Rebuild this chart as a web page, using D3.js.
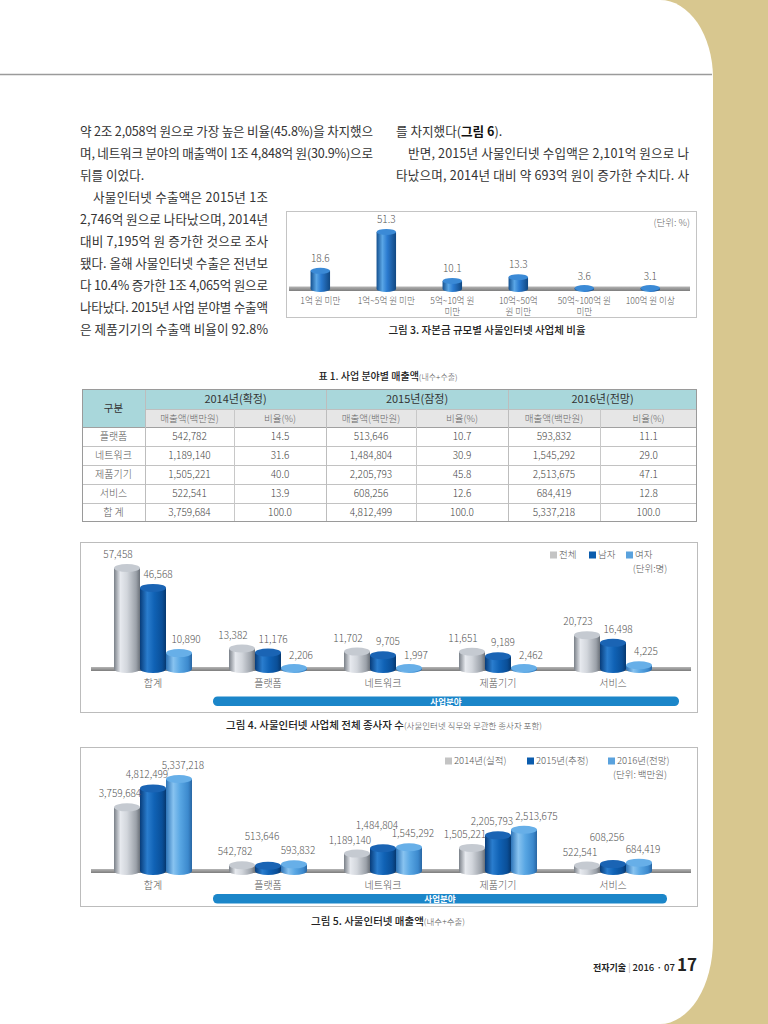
<!DOCTYPE html>
<html><head><meta charset="utf-8">
<script src="https://cdn.jsdelivr.net/npm/d3@7"></script>
<style>
html,body{margin:0;padding:0;background:#fff;}
svg{display:block;font-family:"Noto Sans CJK KR","Noto Sans",sans-serif;}
</style></head><body>
<svg id="page" width="768" height="1024"></svg>
<script>
// ---------------- DATA ----------------
const fig3Categories = [["1억 원 미만"],["1억~5억 원 미만"],["5억~10억 원","미만"],["10억~50억","원 미만"],["50억~100억 원","미만"],["100억 원 이상"]];
const fig3Values = [18.6, 51.3, 10.1, 13.3, 3.6, 3.1];

const fields = ["합계","플랫폼","네트워크","제품기기","서비스"];
const workerSeries = ["전체","남자","여자"];
const workersTotal  = [57458, 13382, 11702, 11651, 20723];
const workersMale   = [46568, 11176, 9705, 9189, 16498];
const workersFemale = [10890, 2206, 1997, 2462, 4225];

const salesSeries = ["2014년(실적)","2015년(추정)","2016년(전망)"];
const sales2014 = [3759684, 542782, 1189140, 1505221, 522541];
const sales2015 = [4812499, 513646, 1484804, 2205793, 608256];
const sales2016 = [5337218, 593832, 1545292, 2513675, 684419];

const tableYears = ["2014년(확정)","2015년(잠정)","2016년(전망)"];
const tableSubHeads = ["매출액(백만원)","비율(%)"];
const tableRows = ["플랫폼","네트워크","제품기기","서비스","합 계"];
const tblSales2014 = [542782, 1189140, 1505221, 522541, 3759684];
const tblRatio2014 = [14.5, 31.6, 40.0, 13.9, 100.0];
const tblSales2015 = [513646, 1484804, 2205793, 608256, 4812499];
const tblRatio2015 = [10.7, 30.9, 45.8, 12.6, 100.0];
const tblSales2016 = [593832, 1545292, 2513675, 684419, 5337218];
const tblRatio2016 = [11.1, 29.0, 47.1, 12.8, 100.0];

const leftColumn = [
  "약 2조 2,058억 원으로 가장 높은 비율(45.8%)을 차지했으",
  "며, 네트워크 분야의 매출액이 1조 4,848억 원(30.9%)으로",
  "뒤를 이었다.",
  "사물인터넷 수출액은 2015년 1조",
  "2,746억 원으로 나타났으며, 2014년",
  "대비 7,195억 원 증가한 것으로 조사",
  "됐다. 올해 사물인터넷 수출은 전년보",
  "다 10.4% 증가한 1조 4,065억 원으로",
  "나타났다. 2015년 사업 분야별 수출액",
  "은 제품기기의 수출액 비율이 92.8%"
];
const rightColumn = [
  "를 차지했다(|그림 6|).",
  "반면, 2015년 사물인터넷 수입액은 2,101억 원으로 나",
  "타났으며, 2014년 대비 약 693억 원이 증가한 수치다. 사"
];

// ---------------- PAGE ----------------
const svg = d3.select("#page");
const defs = svg.append("defs");
const fmt = d3.format(",");
const fmt1 = d3.format(".1f");

svg.append("rect").attr("width",768).attr("height",1024).attr("fill","#d8c78f");
svg.append("path").attr("d","M0,0H660A53,78 0 0 1 713,78V940A53,84 0 0 1 660,1024H0Z").attr("fill","#fff");
svg.append("line").attr("x1",0).attr("x2",712).attr("y1",74.5).attr("y2",74.5)
  .attr("stroke","#9b9b9b").attr("stroke-width",1.6);

function hGrad(id, stops){
  const g = defs.append("linearGradient").attr("id",id).attr("x1","0%").attr("x2","100%").attr("y1","0%").attr("y2","0%");
  stops.forEach(([o,c])=>g.append("stop").attr("offset",o).attr("stop-color",c));
}
hGrad("gGray",  [[0,"#7a8088"],[0.25,"#e6e9ee"],[0.5,"#d2d6dc"],[0.85,"#9ba1a9"],[1,"#6a7078"]]);
hGrad("gDark",  [[0,"#073c7a"],[0.28,"#2a7dce"],[0.55,"#1062b5"],[0.85,"#0a4f98"],[1,"#06386f"]]);
hGrad("gLight", [[0,"#2d74b8"],[0.28,"#88c3f0"],[0.55,"#58a6e3"],[0.85,"#3c89cd"],[1,"#2966a3"]]);
hGrad("gFig3",  [[0,"#13508f"],[0.3,"#5aa6e6"],[0.55,"#2b7bd0"],[1,"#114882"]]);
const vG = defs.append("linearGradient").attr("id","gFloor").attr("x1",0).attr("x2",0).attr("y1",0).attr("y2",1);
vG.append("stop").attr("offset",0).attr("stop-color","#b5b5b5");
vG.append("stop").attr("offset",1).attr("stop-color","#7d7d7d");

function cylinder(g, x, w, yTopEdge, yBottom, grad, topFill, ry){
  let yt = Math.min(yTopEdge + ry, yBottom - 1);
  g.append("path").attr("d", `M${x},${yt}V${yBottom}A${w/2},${ry} 0 0 0 ${x+w},${yBottom}V${yt}Z`)
    .attr("fill", `url(#${grad})`);
  g.append("ellipse").attr("cx", x+w/2).attr("cy", yt).attr("rx", w/2).attr("ry", ry).attr("fill", topFill);
}

// ---------------- BODY TEXT ----------------
const bodyFont = 12.6;
const lineY = d3.scaleLinear().domain([0,1]).range([136, 158]);
const leftSpec = [
  {x:80, w:293},{x:80, w:293},{x:80, w:0},
  {x:93, w:175},{x:80, w:188},{x:80, w:188},{x:80, w:188},{x:80, w:188},{x:80, w:188},{x:80, w:188}
];
leftColumn.forEach((s,i)=>{
  const t = svg.append("text").attr("x",leftSpec[i].x).attr("y",lineY(i))
    .attr("font-size",bodyFont).attr("fill","#333").text(s);
  if(leftSpec[i].w) t.attr("textLength",leftSpec[i].w).attr("lengthAdjust","spacing");
});
const rightSpec = [{x:396,w:0},{x:408,w:281},{x:396,w:293}];
rightColumn.forEach((s,i)=>{
  const t = svg.append("text").attr("x",rightSpec[i].x).attr("y",lineY(i))
    .attr("font-size",bodyFont).attr("fill","#333");
  if(s.includes("|")){
    s.split("|").forEach((p,j)=>t.append("tspan").attr("font-weight", j===1?"700":"400").attr("fill", j===1?"#111":"#333").text(p));
  } else t.text(s);
  if(rightSpec[i].w) t.attr("textLength",rightSpec[i].w).attr("lengthAdjust","spacing");
});

// ---------------- FIG 3 ----------------
(function(){
  const g = svg.append("g");
  g.append("rect").attr("x",286.5).attr("y",211.5).attr("width",410).attr("height",106)
    .attr("fill","#fff").attr("stroke","#c4c4c4");
  const x = d3.scaleBand().domain(d3.range(fig3Values.length)).range([287.3, 683.3]);
  const y = d3.scaleLinear().domain([0, 60]).range([290, 290 - 60*1.19]);
  g.append("rect").attr("x",289).attr("y",286.5).attr("width",401).attr("height",4.5).attr("fill","url(#gFloor)");
  const bw = 19.5;
  fig3Values.forEach((v,i)=>{
    const cx = x(i) + x.bandwidth()/2;
    cylinder(g, cx - bw/2, bw, y(v), 289, "gFig3", "#3b8ad6", 3);
    g.append("text").attr("x",cx).attr("y",y(v)-6).attr("text-anchor","middle")
      .attr("font-size",10).attr("font-weight",300).attr("fill","#555").text(fmt1(v));
    fig3Categories[i].forEach((ln,k)=>{
      g.append("text").attr("x",cx).attr("y",303.5 + k*11.5).attr("text-anchor","middle")
        .attr("font-size",8.6).attr("font-weight",300).attr("fill","#555").text(ln);
    });
  });
  g.append("text").attr("x",690).attr("y",225.5).attr("text-anchor","end")
    .attr("font-size",9.5).attr("font-weight",300).attr("fill","#666").text("(단위: %)");
  svg.append("text").attr("x",487).attr("y",333.5).attr("text-anchor","middle")
    .attr("font-size",10.5).attr("font-weight",500).attr("fill","#222").text("그림 3. 자본금 규모별 사물인터넷 사업체 비율");
})();

// ---------------- TABLE ----------------
(function(){
  const g = svg.append("g");
  const title = g.append("text").attr("x",388).attr("y",380).attr("text-anchor","middle").attr("fill","#222");
  title.append("tspan").attr("font-size",10).attr("font-weight",500).text("표 1. 사업 분야별 매출액");
  title.append("tspan").attr("font-size",8).attr("font-weight",300).attr("fill","#555").text("(내수+수출)");

  const cols = [82,145,234,326,416,508,600,697];
  const hTop = 389, h1 = 409, h2 = 427;
  const ry = d3.scaleBand().domain(tableRows).range([427, 522]);
  g.append("rect").attr("x",cols[0]).attr("y",hTop).attr("width",cols[7]-cols[0]).attr("height",h1-hTop).attr("fill","#a9d7db");
  g.append("rect").attr("x",cols[0]).attr("y",h1).attr("width",cols[1]-cols[0]).attr("height",h2-h1).attr("fill","#a9d7db");
  g.append("rect").attr("x",cols[1]).attr("y",h1).attr("width",cols[7]-cols[1]).attr("height",h2-h1).attr("fill","#e6e6e6");
  const line = (x1,y1,x2,y2,c)=>g.append("line").attr("x1",x1).attr("y1",y1).attr("x2",x2).attr("y2",y2).attr("stroke",c||"#c2c2c2").attr("stroke-width",1);
  line(cols[1],h1+0.5,cols[7],h1+0.5,"#bfbfbf");
  line(cols[0],h2+0.5,cols[7],h2+0.5,"#a0a0a0");
  tableRows.forEach((r,i)=>{ if(i>0) line(cols[0],ry(r)+0.5,cols[7],ry(r)+0.5); });
  [1,3,5].forEach(c=>line(cols[c]+0.5,hTop,cols[c]+0.5,522,"#bdbdbd"));
  [2,4,6].forEach(c=>line(cols[c]+0.5,h1,cols[c]+0.5,522,"#c8c8c8"));
  g.append("rect").attr("x",cols[0]+0.5).attr("y",hTop+0.5).attr("width",cols[7]-cols[0]-1).attr("height",522-hTop-1)
    .attr("fill","none").attr("stroke","#9a9a9a");

  const txt = (x,y,s,size,fill,w)=>g.append("text").attr("x",x).attr("y",y).attr("text-anchor","middle")
      .attr("font-size",size).attr("font-weight",w||300).attr("fill",fill).text(s);
  txt((cols[0]+cols[1])/2, 411.5, "구분", 10.5, "#333", 400);
  tableYears.forEach((yr,i)=>{
    txt((cols[1+2*i]+cols[3+2*i])/2, 402.5, yr, 11, "#333", 400);
    tableSubHeads.forEach((sh,k)=>txt((cols[1+2*i+k]+cols[2+2*i+k])/2, 421.5, sh, 9.5, "#666"));
  });
  const dataCols = [tblSales2014, tblRatio2014, tblSales2015, tblRatio2015, tblSales2016, tblRatio2016];
  tableRows.forEach((r,i)=>{
    const cy = ry(r) + ry.bandwidth()/2 + 3.6;
    txt((cols[0]+cols[1])/2, cy, r, 10, "#555");
    dataCols.forEach((arr,c)=>{
      txt((cols[1+c]+cols[2+c])/2, cy, c%2===0 ? fmt(arr[i]) : fmt1(arr[i]), 10, "#444");
    });
  });
})();

// ---------------- GROUPED 3D CHARTS ----------------
function groupedChart(o){
  const g = svg.append("g");
  g.append("rect").attr("x",80.5).attr("y",o.boxTop+0.5).attr("width",617).attr("height",o.boxH)
    .attr("fill","#fff").attr("stroke","#bcbcbc");
  const x0 = d3.scaleBand().domain(fields).range([95.5, 670.5]).paddingInner(0.3217).paddingOuter(0.16085);
  const x1 = d3.scaleBand().domain(o.series).range([0, x0.bandwidth()]);
  const y = d3.scaleLinear().domain([0, o.yMax]).range([o.base, o.base - o.yMax*o.pxPer]);
  g.append("rect").attr("x",91).attr("y",o.base-2).attr("width",600).attr("height",4).attr("fill","url(#gFloor)");
  const grads = ["gGray","gDark","gLight"];
  const tops = ["#c5cad1","#1a64b4","#67afe8"];
  fields.forEach((f,i)=>{
    o.values.forEach((arr,s)=>{
      cylinder(g, x0(f)+x1(o.series[s]), x1.bandwidth(), y(arr[i]), o.base, grads[s], tops[s], 4);
    });
  });
  fields.forEach((f,i)=>{
    const placed = [];
    o.values.forEach((arr,s)=>{
      let cx = x0(f)+x1(o.series[s])+x1.bandwidth()/2 + o.dx[s];
      const t = g.append("text").attr("text-anchor","middle")
        .attr("font-size",10).attr("font-weight",300).attr("fill","#555").text(fmt(arr[i]));
      const w = t.node().getComputedTextLength();
      let yy = y(arr[i]) - 6;
      let moved = true, guard = 0;
      while(moved && guard++ < 10){
        moved = false;
        for(const p of placed){
          const need = (w+p.w)/2 + 2 - Math.abs(cx-p.x);
          const dy = Math.abs(yy-p.y);
          if(need > 0 && dy < 8){
            if(need <= 10 && dy >= 4 && cx > p.x){ cx += need; }
            else { yy = p.y - o.raise; }
            moved = true;
          }
        }
      }
      t.attr("x", cx).attr("y", yy);
      placed.push({x:cx, y:yy, w:w});
    });
    g.append("text").attr("x",x0(f)+x0.bandwidth()/2).attr("y",o.base+17.5).attr("text-anchor","middle")
      .attr("font-size",10).attr("font-weight",300).attr("fill","#555").text(f);
  });
  const bx = x0(fields[1]) - 16;
  g.append("rect").attr("x",bx).attr("y",o.bandY).attr("width",o.bandR - bx).attr("height",9.5).attr("rx",4.5)
    .attr("fill","#1b86c9");
  g.append("text").attr("x",(bx+o.bandR)/2).attr("y",o.bandY+8).attr("text-anchor","middle")
    .attr("font-size",8.5).attr("font-weight",700).attr("fill","#fff").text("사업분야");
  const sw = ["#c4c4c4","#0b5cad","#5aa2dd"];
  o.series.forEach((s,k)=>{
    g.append("rect").attr("x",o.legX[k]).attr("y",o.legY-3.5).attr("width",7).attr("height",7).attr("fill",sw[k]);
    g.append("text").attr("x",o.legX[k]+9).attr("y",o.legY+3.3).attr("font-size",9.5).attr("font-weight",300)
      .attr("fill","#555").text(s);
  });
  g.append("text").attr("x",o.unitX).attr("y",o.legY+17).attr("text-anchor","middle")
    .attr("font-size",9.5).attr("font-weight",300).attr("fill","#555").text(o.unit);
  const cap = svg.append("text").attr("x",o.capX).attr("y",o.capY).attr("text-anchor","middle").attr("fill","#222");
  cap.append("tspan").attr("font-size",10.5).attr("font-weight",500).text(o.cap[0]);
  cap.append("tspan").attr("font-size",8.5).attr("font-weight",300).attr("fill","#555").text(o.cap[1]);
}

groupedChart({
  series: workerSeries, values: [workersTotal, workersMale, workersFemale],
  boxTop: 542, boxH: 170, base: 669, yMax: 60000, pxPer: 105/57458,
  dx: [-9, 5, 7], raise: 10, bandY: 696.5, bandR: 679,
  legX: [550, 589, 626], legY: 555, unitX: 650, unit: "(단위:명)",
  cap: ["그림 4. 사물인터넷 사업체 전체 종사자 수", "(사물인터넷 직무와 무관한 종사자 포함)"], capX: 384, capY: 729
});
groupedChart({
  series: salesSeries, values: [sales2014, sales2015, sales2016],
  boxTop: 747, boxH: 159, base: 871, yMax: 6000000, pxPer: 96/5337218,
  dx: [-7, -6, 4], raise: 15, bandY: 894, bandR: 667,
  legX: [445, 527, 608], legY: 761, unitX: 640, unit: "(단위: 백만원)",
  cap: ["그림 5. 사물인터넷 매출액", "(내수+수출)"], capX: 388, capY: 925
});

// ---------------- FOOTER ----------------
const ft = svg.append("text").attr("x",697).attr("y",971).attr("text-anchor","end").attr("fill","#222");
ft.append("tspan").attr("font-size",9).attr("font-weight",700).text("전자기술");
ft.append("tspan").attr("font-size",9).attr("fill","#aaa").text(" | ");
ft.append("tspan").attr("font-size",9.5).attr("font-weight",500).text("2016 · 07 ");
ft.append("tspan").attr("font-size",17).attr("font-weight",700).text("17");
</script>
</body></html>
